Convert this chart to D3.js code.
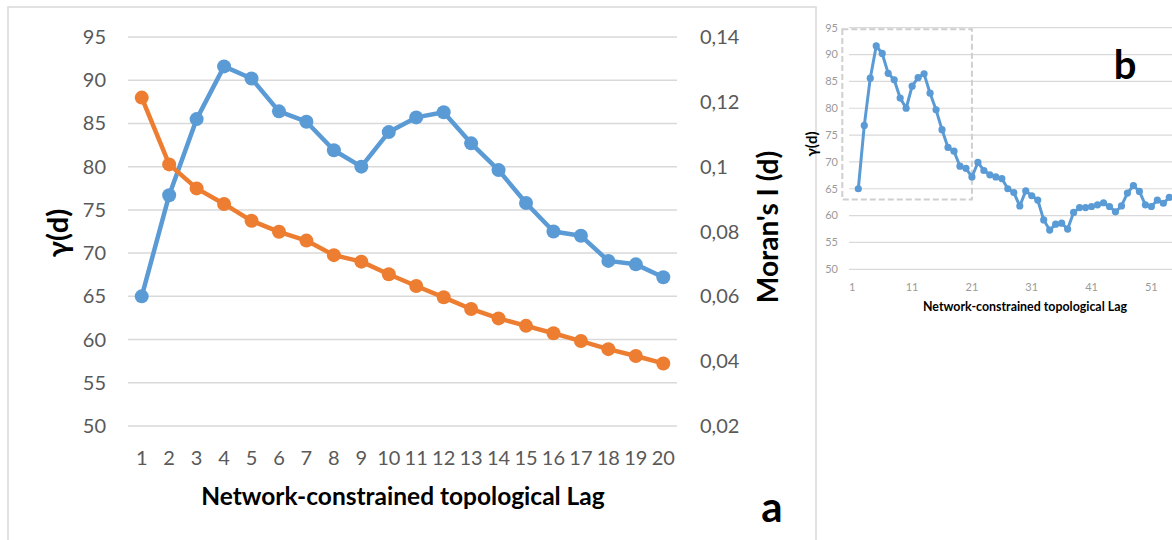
<!DOCTYPE html>
<html>
<head>
<meta charset="utf-8">
<script src="https://cdn.jsdelivr.net/npm/d3@7"></script>
<style>
  html, body { margin: 0; padding: 0; background: #ffffff; }
  svg { display: block; font-family: Lato, "Open Sans", sans-serif; }
</style>
</head>
<body>
<svg id="chart" width="1172" height="540"></svg>
<script>
// ---------- DATA ----------
const lagsA = [1,2,3,4,5,6,7,8,9,10,11,12,13,14,15,16,17,18,19,20];
const gammaA = [65.0,76.7,85.5,91.6,90.2,86.4,85.2,81.9,80.0,84.0,85.7,86.3,82.7,79.6,75.8,72.5,72.0,69.1,68.7,67.2];
const moranA = [0.1213,0.1007,0.0933,0.0885,0.0833,0.0799,0.0772,0.0727,0.0707,0.0668,0.0632,0.0597,0.0561,0.0532,0.0509,0.0486,0.0462,0.0437,0.0416,0.0393];
const leftTicksA = [50,55,60,65,70,75,80,85,90,95];
const rightTicksA = [0.02,0.04,0.06,0.08,0.10,0.12,0.14];

const gammaB = [65.0,76.8,85.6,91.6,90.2,86.5,85.3,81.9,80.0,84.1,85.7,86.4,82.8,79.7,76.0,72.7,72.0,69.2,68.8,67.2,
                69.9,68.4,67.6,67.2,66.9,65.0,64.3,61.8,64.6,63.7,62.9,59.2,57.3,58.4,58.6,57.5,60.6,61.5,61.5,61.7,
                62.0,62.4,61.7,60.7,61.8,64.2,65.6,64.5,62.0,61.7,62.9,62.3,63.4,63.2];
const lagsB = gammaB.map((d, i) => i + 1);
const leftTicksB = [50,55,60,65,70,75,80,85,90,95];
const xTicksB = [1,11,21,31,41,51];

const titleX = "Network-constrained topological Lag";
const titleYA = "γ(d)";
const titleYR = "Moran's I (d)";

// ---------- SETUP ----------
const svg = d3.select("#chart");
const blue = "#5B9BD5", orange = "#ED7D31", grid = "#d9d9d9", tickCol = "#595959";
const comma = d3.formatLocale({decimal: ",", thousands: ".", grouping: [3], currency: ["", ""]}).format(".2~f");

// Panel a frame
svg.append("rect").attr("x", 8).attr("y", 7).attr("width", 808).attr("height", 620)
  .attr("fill", "none").attr("stroke", grid).attr("stroke-width", 1.5);

// ---------- PANEL A ----------
const xA = d3.scaleBand().domain(lagsA).range([128, 677]);
const cx = d => xA(d) + xA.bandwidth() / 2;
const yL = d3.scaleLinear().domain([50, 95]).range([426, 37]);
const yR = d3.scaleLinear().domain([0.02, 0.14]).range([426, 37]);

const gA = svg.append("g");
gA.selectAll("line.grid").data(leftTicksA).join("line")
  .attr("x1", 128).attr("x2", 677)
  .attr("y1", d => yL(d)).attr("y2", d => yL(d))
  .attr("stroke", grid).attr("stroke-width", 1.5);

gA.selectAll("text.lt").data(leftTicksA).join("text")
  .attr("x", 106).attr("y", d => yL(d)).attr("dy", "0.35em")
  .attr("text-anchor", "end").attr("font-size", 20).attr("fill", tickCol)
  .text(d => d);

gA.selectAll("text.rt").data(rightTicksA).join("text")
  .attr("x", 700).attr("y", d => yR(d)).attr("dy", "0.35em")
  .attr("text-anchor", "start").attr("font-size", 20).attr("fill", tickCol)
  .text(d => comma(d));

gA.selectAll("text.xt").data(lagsA).join("text")
  .attr("x", d => cx(d)).attr("y", 465)
  .attr("text-anchor", "middle").attr("font-size", 20).attr("fill", tickCol)
  .text(d => d);

gA.append("text").attr("x", 403).attr("y", 505).attr("text-anchor", "middle")
  .attr("font-size", 24.5).attr("font-weight", "bold").attr("fill", "#000").text(titleX);

gA.append("text").attr("transform", "translate(68,233) rotate(-90)").attr("text-anchor", "middle")
  .attr("font-size", 29).attr("font-weight", "bold").attr("fill", "#000").text(titleYA);

gA.append("text").attr("transform", "translate(778,227) rotate(-90)").attr("text-anchor", "middle")
  .attr("font-size", 28).attr("font-weight", "bold").attr("fill", "#000").text(titleYR);

gA.append("text").attr("x", 772).attr("y", 522).attr("text-anchor", "middle")
  .attr("font-size", 42).attr("font-weight", "bold").attr("fill", "#000").text("a");

const lineL = d3.line().x((d, i) => cx(lagsA[i])).y(d => yL(d));
const lineR = d3.line().x((d, i) => cx(lagsA[i])).y(d => yR(d));

gA.append("path").attr("d", lineL(gammaA)).attr("fill", "none")
  .attr("stroke", blue).attr("stroke-width", 4.5).attr("stroke-linejoin", "round");
gA.selectAll("circle.b").data(gammaA).join("circle")
  .attr("cx", (d, i) => cx(lagsA[i])).attr("cy", d => yL(d)).attr("r", 7).attr("fill", blue);

gA.append("path").attr("d", lineR(moranA)).attr("fill", "none")
  .attr("stroke", orange).attr("stroke-width", 4.5).attr("stroke-linejoin", "round");
gA.selectAll("circle.o").data(moranA).join("circle")
  .attr("cx", (d, i) => cx(lagsA[i])).attr("cy", d => yR(d)).attr("r", 7).attr("fill", orange);

// ---------- PANEL B ----------
const xB = d3.scaleLinear().domain([1, 53]).range([858.3, 1169.3]);
const stepB = xB(2) - xB(1);
const yB = d3.scaleLinear().domain([50, 95]).range([269.3, 27.7]);
const gB = svg.append("g");
const tickColB = "#9a9a9a";

gB.selectAll("line.grid").data(leftTicksB).join("line")
  .attr("x1", 849).attr("x2", 1172)
  .attr("y1", d => yB(d)).attr("y2", d => yB(d))
  .attr("stroke", grid).attr("stroke-width", 1.2);

gB.selectAll("text.lt").data(leftTicksB).join("text")
  .attr("x", 838).attr("y", d => yB(d)).attr("dy", "0.35em")
  .attr("text-anchor", "end").attr("font-size", 11).attr("fill", tickColB)
  .text(d => d);

gB.selectAll("text.xt").data(xTicksB).join("text")
  .attr("x", d => xB(d) - stepB).attr("y", 291)
  .attr("text-anchor", "middle").attr("font-size", 11).attr("fill", tickColB)
  .text(d => d);

gB.append("text").attr("x", 1025).attr("y", 311).attr("text-anchor", "middle")
  .attr("font-size", 12.4).attr("font-weight", "bold").attr("fill", "#000").text(titleX);

gB.append("text").attr("transform", "translate(817,144) rotate(-90)").attr("text-anchor", "middle")
  .attr("font-size", 15).attr("font-weight", "bold").attr("fill", "#000").text(titleYA);

gB.append("text").attr("x", 1125).attr("y", 79).attr("text-anchor", "middle")
  .attr("font-size", 40).attr("font-weight", "bold").attr("fill", "#000").text("b");

// dashed box around lags 1-20
gB.append("rect")
  .attr("x", xB(1) - 16).attr("y", yB(95) + 1.6)
  .attr("width", xB(20) - (xB(1) - 16)).attr("height", yB(63) - (yB(95) + 1.6))
  .attr("fill", "none").attr("stroke", "#cfcfcf").attr("stroke-width", 2)
  .attr("stroke-dasharray", "6,3");

const lineB = d3.line().x((d, i) => xB(lagsB[i])).y(d => yB(d));
gB.append("path").attr("d", lineB(gammaB)).attr("fill", "none")
  .attr("stroke", blue).attr("stroke-width", 3).attr("stroke-linejoin", "round");
gB.selectAll("circle").data(gammaB).join("circle")
  .attr("cx", (d, i) => xB(lagsB[i])).attr("cy", d => yB(d)).attr("r", 3.6).attr("fill", blue);
</script>
</body>
</html>
